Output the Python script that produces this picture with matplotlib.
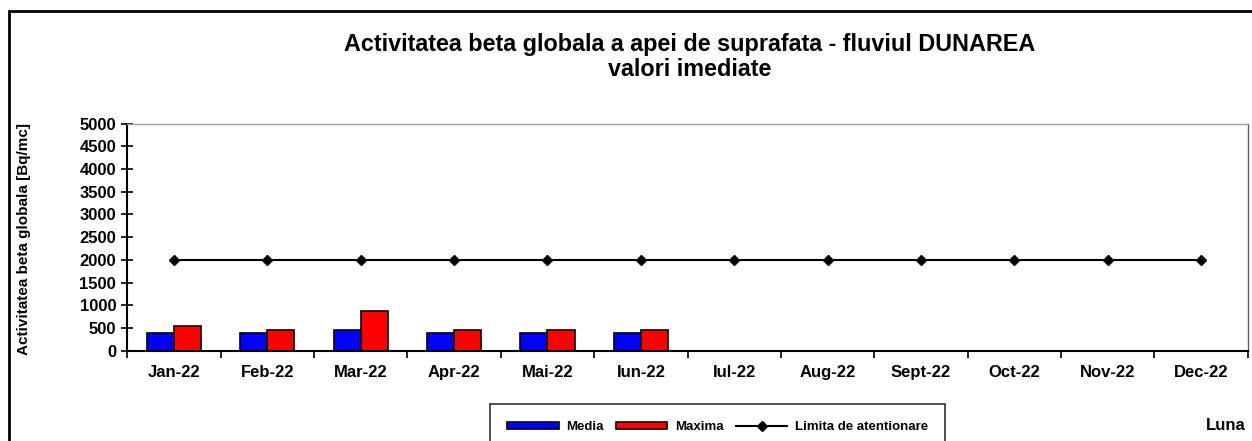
import numpy as np
import matplotlib
matplotlib.use('Agg')
import matplotlib.pyplot as plt
from matplotlib.patches import Rectangle

plt.rcParams['font.family'] = ['Liberation Sans', 'DejaVu Sans']
plt.rcParams['font.weight'] = 'bold'

months = ['Jan-22', 'Feb-22', 'Mar-22', 'Apr-22', 'Mai-22', 'Iun-22',
          'Iul-22', 'Aug-22', 'Sept-22', 'Oct-22', 'Nov-22', 'Dec-22']
media = [400, 400, 450, 400, 400, 400]
maxima = [540, 450, 870, 450, 450, 450]
limita = [2000] * 12

W, H = 1252, 441
fig = plt.figure(figsize=(W / 100, H / 100), dpi=100)
ax = fig.add_axes([127.3 / W, 1 - 350.7 / H, 1120.4 / W, 227 / H])

# figure frame, cut off at right and bottom like the original
fig.patches.append(Rectangle((9 / W, -0.05), 1.1, 1 - 11 / H + 0.05,
                             transform=fig.transFigure, fill=False,
                             edgecolor='black', linewidth=2))

x = np.arange(len(months))
bw = 0.29
b1 = ax.bar(x[:len(media)] - bw / 2, media, bw, color='#0000ff', edgecolor='black',
            linewidth=1.2, label='Media')
b2 = ax.bar(x[:len(maxima)] + bw / 2, maxima, bw, color='#ff0000', edgecolor='black',
            linewidth=1.2, label='Maxima')
ln, = ax.plot(x, limita, color='black', marker='D', markersize=5, linewidth=1.5,
              label='Limita de atentionare')

ax.set_xlim(-0.5, len(months) - 0.5)
ax.set_ylim(0, 5000)
ax.set_yticks(np.arange(0, 5001, 500))
ax.set_xticks(x)
ax.set_xticklabels(months, fontsize=12, fontweight='bold')
ax.set_xticks(np.arange(-0.5, len(months)), minor=True)
ax.tick_params(axis='x', which='major', length=0, pad=10)
ax.tick_params(axis='x', which='minor', length=5, width=1.2, direction='out')
ax.tick_params(axis='y', length=8, width=1.2, direction='inout', labelsize=12, pad=4)
for lbl in ax.get_yticklabels():
    lbl.set_fontweight('bold')

ax.spines['top'].set_color('#a0a0a0')
ax.spines['right'].set_color('#606060')
ax.spines['top'].set_linewidth(1)
ax.spines['right'].set_linewidth(1)
ax.spines['left'].set_linewidth(1.5)
ax.spines['bottom'].set_linewidth(1.5)

ax.set_ylabel('Activitatea beta globala [Bq/mc]', fontsize=11, fontweight='bold')
ax.yaxis.set_label_coords(-(127.3 - 31) / 1120.4, 0.49)

fig.text(690 / W, 1 - 45 / H, 'Activitatea beta globala a apei de suprafata - fluviul DUNAREA',
         ha='center', va='center', fontsize=16.8, fontweight='bold')
fig.text(690 / W, 1 - 70 / H, 'valori imediate',
         ha='center', va='center', fontsize=16.8, fontweight='bold')
fig.text(1226 / W, 1 - 426 / H, 'Luna', ha='center', va='center',
         fontsize=12, fontweight='bold')

leg = fig.legend([b1, b2, ln], ['Media', 'Maxima', 'Limita de atentionare'],
                 loc='upper left', bbox_to_anchor=(490 / W, 1 - 404 / H), ncol=3,
                 fontsize=9.5, frameon=True, fancybox=False, edgecolor='black',
                 handlelength=3.9, handleheight=0.4, columnspacing=0.9,
                 handletextpad=0.6, borderpad=1.3, borderaxespad=0)
leg.get_frame().set_linewidth(1.2)
for t in leg.get_texts():
    t.set_fontweight('bold')

fig.savefig('out.png', dpi=100)
